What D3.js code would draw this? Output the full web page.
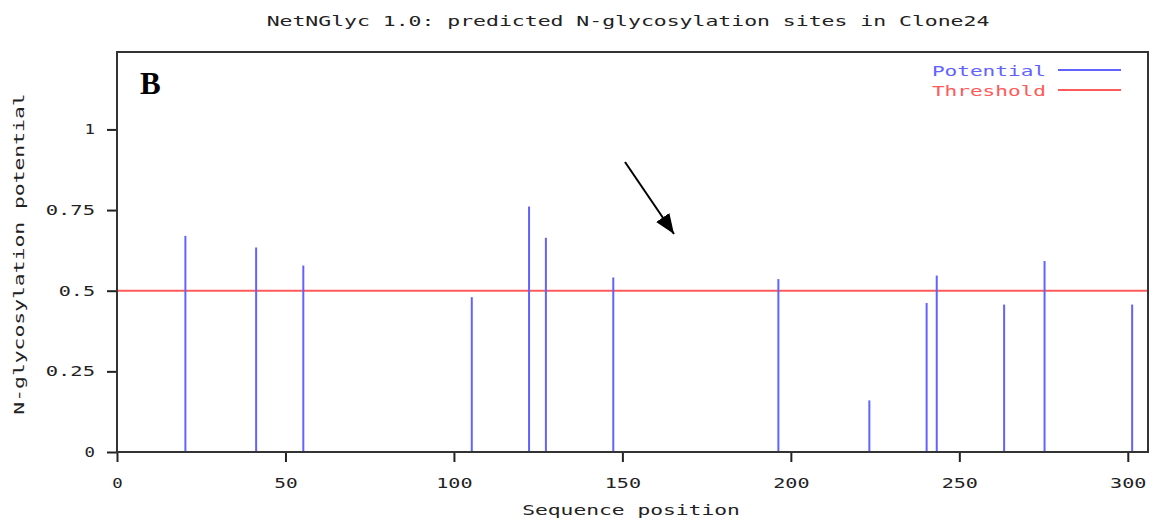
<!DOCTYPE html>
<html>
<head>
<meta charset="utf-8">
<script src="https://cdn.jsdelivr.net/npm/d3@7"></script>
<style>
    body { margin: 0; background: #fff; }
    .mono { font-family: "DejaVu Sans Mono", monospace; font-size: 14px; }
    .frame { fill: none; stroke: #333; stroke-width: 2; }
    .tick line { stroke: #222; stroke-width: 2; }
</style>
</head>
<body>
<script>
(function(){

    //sequence positions of predicted sites
    var positions = [20, 41, 55, 105, 122, 127, 147, 196, 223, 240, 243, 263, 275, 301];
    //N-glycosylation potential per site
    var potentials = [0.670, 0.634, 0.578, 0.480, 0.761, 0.664, 0.541, 0.536, 0.160, 0.462, 0.547, 0.457, 0.592, 0.457];
    var threshold = 0.5;

    var xTicks = [0, 50, 100, 150, 200, 250, 300];
    var yTicks = [0, 0.25, 0.5, 0.75, 1];
    var yTickLabels = ["0", "0.25", "0.5", "0.75", "1"];

    var legendLabels = ["Potential", "Threshold"];

    var blue = "#6262ff", red = "#ff5a5a";

    var width = 1159, height = 522;
    var left = 117, right = 1148, top = 52, bottom = 452;
    var charWidth = 12.95; //wide bitmap-like characters

    var svg = d3.select("body")
        .append("svg")
        .attr("width", width)
        .attr("height", height);

    var x = d3.scaleLinear().domain([0, 306]).range([left, right]);
    var y = d3.scaleLinear().domain([0, 1.24]).range([bottom, top]);

    //title
    svg.append("text")
        .attr("class", "mono")
        .attr("x", 628)
        .attr("y", 26)
        .attr("text-anchor", "middle")
        .attr("fill", "#222")
        .text("NetNGlyc 1.0: predicted N-glycosylation sites in Clone24");

    //threshold line
    svg.append("line")
        .attr("x1", left).attr("x2", right)
        .attr("y1", y(threshold)).attr("y2", y(threshold))
        .attr("stroke", red)
        .attr("stroke-width", 2);

    //potential bars
    svg.selectAll(".site")
        .data(positions)
        .enter()
        .append("line")
        .attr("class", "site")
        .attr("x1", function(d){ return x(d) + 1; })
        .attr("x2", function(d){ return x(d) + 1; })
        .attr("y1", y(0))
        .attr("y2", function(d, i){ return y(potentials[i]); })
        .attr("stroke", blue)
        .attr("stroke-width", 2);

    //axes
    var xAxis = svg.append("g")
        .attr("transform", "translate(0," + bottom + ")")
        .call(d3.axisBottom(x).tickValues(xTicks).tickSize(10).tickPadding(16).tickFormat(d3.format("d")));
    var yAxis = svg.append("g")
        .attr("transform", "translate(" + left + ",0)")
        .call(d3.axisLeft(y).tickValues(yTicks).tickSize(10).tickPadding(12)
            .tickFormat(function(d, i){ return yTickLabels[i]; }));

    [xAxis, yAxis].forEach(function(g){
        g.select(".domain").remove();
        g.selectAll("text")
            .attr("class", "mono")
            .attr("fill", "#222");
        g.attr("font-family", null).attr("font-size", null);
    });

    //frame
    svg.append("rect")
        .attr("class", "frame")
        .attr("x", left)
        .attr("y", top)
        .attr("width", right - left)
        .attr("height", bottom - top);

    //axis titles
    svg.append("text")
        .attr("class", "mono")
        .attr("x", 631)
        .attr("y", 515)
        .attr("text-anchor", "middle")
        .attr("fill", "#222")
        .text("Sequence position");

    svg.append("text")
        .attr("class", "mono")
        .attr("transform", "translate(24,254) rotate(-90)")
        .attr("text-anchor", "middle")
        .attr("fill", "#222")
        .text("N-glycosylation potential");

    //legend
    var legend = svg.selectAll(".legend")
        .data(legendLabels)
        .enter()
        .append("g")
        .attr("class", "legend")
        .attr("transform", function(d, i){ return "translate(0," + (70 + i * 20) + ")"; });
    legend.append("text")
        .attr("class", "mono")
        .attr("x", 1046)
        .attr("y", 6)
        .attr("text-anchor", "end")
        .attr("fill", function(d, i){ return i === 0 ? blue : red; })
        .text(function(d){ return d; });
    legend.append("line")
        .attr("x1", 1058).attr("x2", 1121)
        .attr("stroke", function(d, i){ return i === 0 ? blue : red; })
        .attr("stroke-width", 2);

    //stretch all monospace text to the wide character pitch
    svg.selectAll("text.mono").each(function(){
        var n = this.textContent.length;
        d3.select(this)
            .attr("textLength", n * charWidth - 2.5)
            .attr("lengthAdjust", "spacingAndGlyphs");
    });

    //panel letter
    svg.append("text")
        .attr("x", 140)
        .attr("y", 94)
        .style("font-family", "'Liberation Serif', serif")
        .style("font-weight", "bold")
        .style("font-size", "31px")
        .text("B");

    //arrow annotation
    svg.append("defs").append("marker")
        .attr("id", "head")
        .attr("viewBox", "0 0 20 16")
        .attr("refX", 20).attr("refY", 8)
        .attr("markerWidth", 20).attr("markerHeight", 16)
        .attr("markerUnits", "userSpaceOnUse")
        .attr("orient", "auto")
        .append("path")
        .attr("d", "M0,0L20,8L0,16Z")
        .attr("fill", "#000");
    svg.append("line")
        .attr("x1", 625).attr("y1", 162)
        .attr("x2", 674).attr("y2", 234)
        .attr("stroke", "#000")
        .attr("stroke-width", 2)
        .attr("marker-end", "url(#head)");

})();
</script>
</body>
</html>
